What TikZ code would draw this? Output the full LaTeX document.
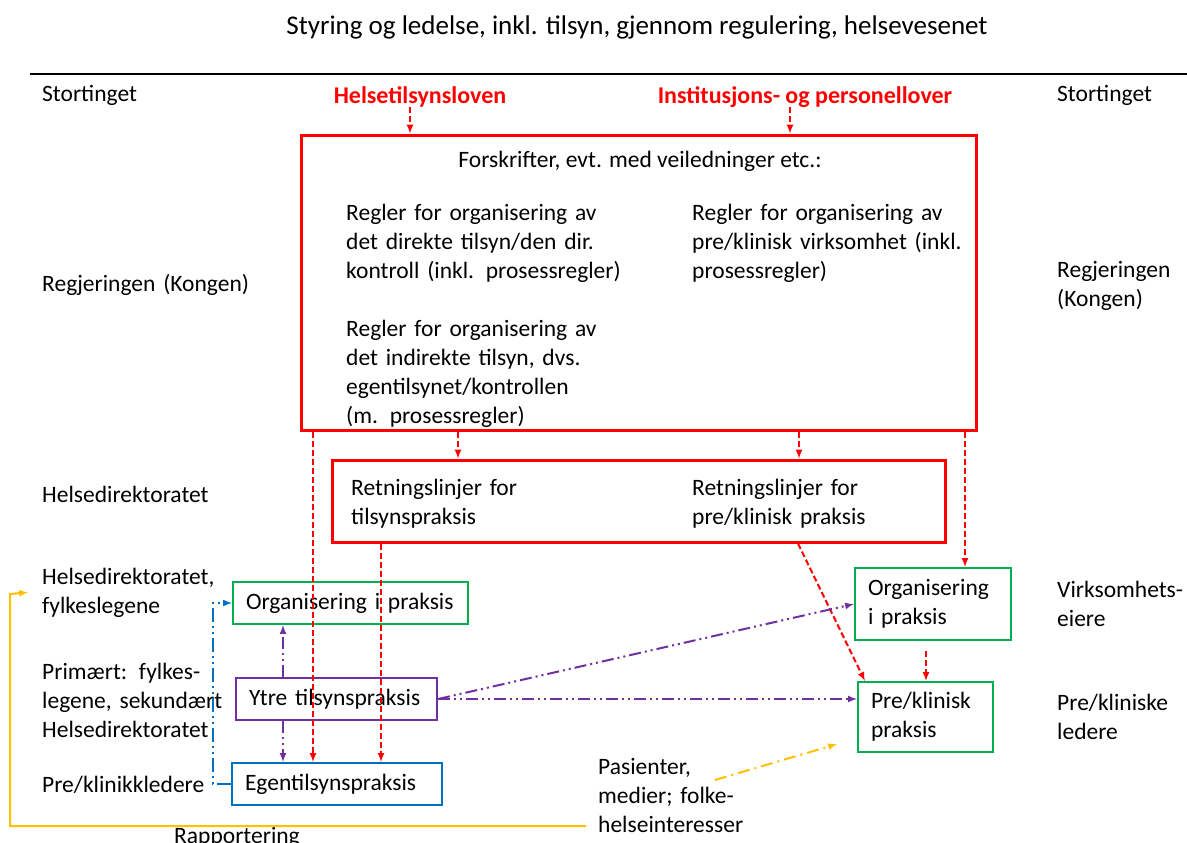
\documentclass[tikz,border=0pt]{standalone}
\usepackage{fontspec}
\setmainfont{Carlito}
\usetikzlibrary{arrows}
\definecolor{rd}{HTML}{FF0000}
\definecolor{gr}{HTML}{00B050}
\definecolor{pu}{HTML}{7030A0}
\definecolor{bl}{HTML}{0070C0}
\definecolor{yl}{HTML}{FFC000}

\begin{document}
\begin{tikzpicture}[x=1pt, y=-1pt,
    every node/.style = {font=\fontsize{23.5}{29}\selectfont, inner sep=0pt},
    lbl/.style = {anchor=base west, align=left, text width=#1},
    lbl/.default = 340pt,
    lov/.style = {anchor=base, text=rd, font=\fontsize{24}{29}\selectfont\bfseries},
    bigbox/.style = {draw=rd, line width=3pt, rectangle},
    txtbox/.style = {draw=#1, line width=2.2pt, rectangle, inner xsep=13pt, align=left},
    redarr/.style = {draw=rd, line width=2pt, dash pattern=on 6pt off 3pt, -latex},
    purarr/.style = {draw=pu, line width=2pt, dash pattern=on 12pt off 4pt on 2pt off 4pt on 2pt off 4pt, -latex},
    bluarr/.style = {draw=bl, line width=2pt, dash pattern=on 14pt off 4pt on 2pt off 4pt on 2pt off 4pt, -latex},
    ylwarr/.style = {draw=yl, line width=2pt, dash pattern=on 12pt off 5pt on 2pt off 5pt, -latex}]
\useasboundingbox (0,0) rectangle (1187,843);

\node[anchor=base, font=\fontsize{27}{32}\selectfont] (title) at (637,35) {Styring og ledelse, inkl. tilsyn, gjennom regulering, helsevesenet};
\draw[line width=2.5pt] (30,74) -- (1187,74);

% side labels
\node[lbl] (stL) at (42,102) {Stortinget};
\node[lbl] (regjL) at (42,291) {Regjeringen (Kongen)};
\node[lbl] (hdL) at (42,502) {Helsedirektoratet};
\node[lbl=230pt] (hdF) at (42,584) {Helsedirektoratet,\\fylkeslegene};
\node[lbl=230pt] (prim) at (42,679) {Primært: fylkes-\\legene, sekundært\\Helsedirektoratet};
\node[lbl=230pt] (prekL) at (42,792) {Pre/klinikkledere};
\node[lbl=150pt] (stR) at (1057,102) {Stortinget};
\node[lbl=150pt] (regjR) at (1057,277) {Regjeringen\\(Kongen)};
\node[lbl=150pt] (virk) at (1057,597) {Virksomhets-\\eiere};
\node[lbl=150pt] (prekR) at (1057,710) {Pre/kliniske\\ledere};

\node[lov] (lovA) at (420,103) {Helsetilsynsloven};
\node[lov] (lovB) at (805,103) {Institusjons- og personellover};

% forskrifter
\node[bigbox, minimum width=675pt, minimum height=295pt] (forskr) at (638.5,282.5) {};
\node[anchor=base] (forsk) at (640,167) {Forskrifter, evt. med veiledninger etc.:};
\node[lbl] (regA) at (346,220) {Regler for organisering av\\det direkte tilsyn/den dir.\\kontroll (inkl. prosessregler)};
\node[lbl=300pt] (regB) at (692,220) {Regler for organisering av\\pre/klinisk virksomhet (inkl.\\prosessregler)};
\node[lbl] (regC) at (346,336) {Regler for organisering av\\det indirekte tilsyn, dvs.\\egentilsynet/kontrollen\\(m. prosessregler)};

% retningslinjer
\node[bigbox, minimum width=613pt, minimum height=82pt] (retn) at (638.5,501) {};
\node[lbl] (retA) at (351,495) {Retningslinjer for\\tilsynspraksis};
\node[lbl=250pt] (retB) at (692,495) {Retningslinjer for\\pre/klinisk praksis};

% praksis
\node[txtbox=gr, text width=209pt, minimum height=42pt] (orgL) at (350.5,603) {Organisering i praksis};
\node[txtbox=pu, text width=175pt, minimum height=42pt] (ytre) at (336.5,699) {Ytre tilsynspraksis};
\node[txtbox=bl, text width=184pt, minimum height=42pt] (egen) at (337,784) {Egentilsynspraksis};
\node[txtbox=gr, text width=130pt, minimum height=72pt] (orgR) at (933,604) {Organisering\\i praksis};
\node[txtbox=gr, text width=109pt, minimum height=70pt] (prek) at (925.5,717) {Pre/klinisk\\praksis};

\node[lbl=180pt] (pas) at (598,774) {Pasienter,\\medier; folke-\\helseinteresser};
\node[anchor=base] (rap) at (237,843) {Rapportering};
\coordinate (pasOut) at (715,780);

\draw[redarr] ([xshift=-10pt]lovA.south) -- ([xshift=-10pt]lovA.south |- forskr.north);
\draw[redarr] ([xshift=-15pt]lovB.south) -- ([xshift=-15pt]lovB.south |- forskr.north);
\draw[redarr] (forskr.south -| 458,0) -- (retn.north -| 458,0);
\draw[redarr] (forskr.south -| 799,0) -- (retn.north -| 799,0);
\draw[redarr] (forskr.south -| 313,0) -- (egen.north -| 313,0);
\draw[redarr] (retn.south -| 381,0) -- (egen.north -| 381,0);
\draw[redarr] (forskr.south -| 965,0) -- (orgR.north -| 965,0);
\draw[redarr] (retn.south -| 798,0) -- ([xshift=8pt]prek.north west);
\draw[redarr] ([yshift=-10pt]orgR.south -| 926,0) -- (prek.north -| 926,0);

\draw[purarr] (ytre.east) -- (orgR.west);
\draw[purarr] (ytre.east) -- (prek.west |- ytre.east);
\draw[purarr] (ytre.north -| 283,0) -- (orgL.south -| 283,0);
\draw[purarr] (ytre.south -| 283,0) -- (egen.north -| 283,0);

\draw[bluarr] (egen.west) -- ++(-18,0) |- (orgL.west);

\draw[draw=yl, line width=2pt, -latex] ([xshift=-12pt]pas.west |- 0,826) -- (10,826) -- (10,594) -- ([xshift=-14pt]hdF.west);
\draw[ylwarr] (pasOut) -- ([xshift=-20pt,yshift=9pt]prek.south west);
\end{tikzpicture}
\end{document}
